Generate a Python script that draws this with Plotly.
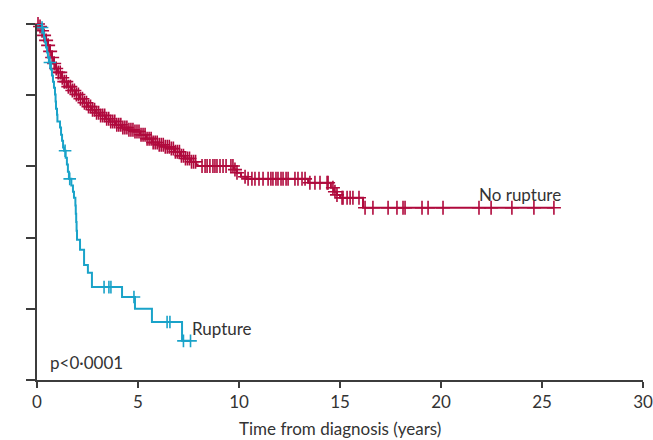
import numpy as np
import plotly.graph_objects as go

# Kaplan-Meier step estimates: event times (years) and survival after each step
no_rupture_time = [0, 0.15, 0.25, 0.35, 0.45, 0.54, 0.64, 0.74, 0.84, 0.94, 1.04, 1.19,
                   1.34, 1.53, 1.73, 1.93, 2.13, 2.33, 2.52, 2.72, 2.92, 3.12, 3.37,
                   3.61, 3.91, 4.21, 4.50, 4.80, 5.10, 5.40, 5.69, 5.99, 6.29, 6.58,
                   6.83, 7.08, 7.33, 7.57, 7.87, 7.95, 9.75, 9.90, 10.10, 10.40, 13.42,
                   14.55, 14.70, 14.85, 15.00, 16.14]
no_rupture_surv = [1.0, 0.993, 0.981, 0.968, 0.954, 0.940, 0.923, 0.906, 0.889, 0.875,
                   0.864, 0.849, 0.838, 0.824, 0.813, 0.802, 0.790, 0.779, 0.768, 0.759,
                   0.751, 0.743, 0.734, 0.726, 0.717, 0.709, 0.703, 0.698, 0.689, 0.678,
                   0.667, 0.661, 0.655, 0.650, 0.641, 0.630, 0.622, 0.613, 0.605, 0.601,
                   0.591, 0.582, 0.571, 0.565, 0.554, 0.540, 0.529, 0.520, 0.512, 0.484]
no_rupture_end = 25.59
no_rupture_censored = [
    0.05, 0.15, 0.25, 0.35, 0.45, 0.55, 0.65, 0.75, 0.85, 0.95, 1.05, 1.15, 1.25, 1.35,
    1.45, 1.55, 1.65, 1.75, 1.85, 1.95, 2.05, 2.15, 2.25, 2.35, 2.45, 2.55, 2.65, 2.75,
    2.85, 2.95, 3.05, 3.15, 3.25, 3.35, 3.45, 3.55, 3.65, 3.75, 3.85, 3.95, 4.05, 4.15,
    4.25, 4.35, 4.45, 4.55, 4.65, 4.75, 4.85, 4.95, 5.05, 5.15, 5.25, 5.35, 5.45, 5.55,
    5.65, 5.75, 5.85, 5.95, 6.05, 6.15, 6.25, 6.35, 6.45, 6.55, 6.65, 6.75, 6.85, 6.95,
    7.05, 7.15, 7.25, 7.35, 7.45, 7.55, 7.65, 7.75, 7.85,
    8.17, 8.32, 8.42, 8.56, 8.71, 8.81, 8.91, 9.06, 9.21, 9.36, 9.60, 9.70, 9.80, 9.90,
    10.30, 10.45, 10.64, 10.79, 10.99, 11.19, 11.44, 11.58, 11.68, 11.83, 11.93, 12.08,
    12.18, 12.33, 12.43, 12.77, 12.92, 13.12, 13.27, 13.51, 13.76, 14.01, 14.36, 14.41,
    14.65, 14.75, 14.85, 15.10, 15.15, 15.35, 15.50, 15.64, 15.94, 16.24, 16.63, 17.38,
    17.82, 18.12, 18.22, 19.06, 19.36, 20.10, 21.88, 22.48, 23.51, 24.60, 25.59]

rupture_time = [0, 0.25, 0.30, 0.35, 0.40, 0.45, 0.50, 0.54, 0.59, 0.69, 0.74, 0.79, 0.84,
                0.89, 0.92, 0.94, 0.99, 1.01, 1.14, 1.19, 1.24, 1.29, 1.34, 1.42, 1.48,
                1.53, 1.58, 1.70, 1.78, 1.83, 1.90, 1.92, 1.94, 1.96, 1.98, 2.13, 2.33,
                2.52, 2.72, 4.21, 4.85, 5.69, 7.18]
rupture_surv = [1.0, 0.990, 0.976, 0.962, 0.948, 0.934, 0.920, 0.906, 0.892, 0.872, 0.855,
                0.838, 0.821, 0.802, 0.782, 0.762, 0.745, 0.726, 0.709, 0.689, 0.672,
                0.653, 0.644, 0.624, 0.605, 0.585, 0.565, 0.546, 0.529, 0.512, 0.490,
                0.467, 0.444, 0.419, 0.394, 0.366, 0.323, 0.301, 0.261, 0.233, 0.200,
                0.163, 0.110]
rupture_end = 7.60
rupture_censored = [0.25, 0.64, 1.39, 1.62, 3.32, 3.56, 3.66, 4.80, 6.44, 6.58, 7.25, 7.60]

x_title = "Time from diagnosis (years)"

RED = "#b00a3d"
BLUE = "#1aa3c9"
AXIS = "#3c3c3c"
TEXT = "#333333"
FONT = "Lato"
FS = 17


def survival_at(times, surv, t):
    idx = np.searchsorted(np.asarray(times), np.asarray(t), side="right") - 1
    return np.asarray(surv)[idx]


def km_traces(times, surv, end, censored, color, mark_size):
    x = list(times) + [end]
    y = list(surv) + [surv[-1]]
    step = go.Scatter(x=x, y=y, mode="lines", line=dict(color=color, width=2, shape="hv"),
                      cliponaxis=False, hoverinfo="skip", showlegend=False)
    marks = go.Scatter(x=censored, y=survival_at(times, surv, censored), mode="markers",
                       marker=dict(symbol="cross-thin", size=mark_size,
                                   line=dict(color=color, width=1.6)),
                       cliponaxis=False, hoverinfo="skip", showlegend=False)
    return [step, marks]


fig = go.Figure()
for tr in km_traces(no_rupture_time, no_rupture_surv, no_rupture_end,
                    no_rupture_censored, RED, 10):
    fig.add_trace(tr)
for tr in km_traces(rupture_time, rupture_surv, rupture_end,
                    rupture_censored, BLUE, 9):
    fig.add_trace(tr)

fig.add_annotation(x=23.9, y=0.52, text="No rupture", showarrow=False,
                   xanchor="center", yanchor="middle", font=dict(size=FS, color=TEXT))
fig.add_annotation(x=7.55, y=0.146, text="Rupture", showarrow=False,
                   xanchor="left", yanchor="middle", font=dict(size=FS, color=TEXT))
fig.add_annotation(x=0.55, y=0.048, text="p<0·0001", showarrow=False,
                   xanchor="left", yanchor="middle", font=dict(size=FS, color=TEXT))
# x-axis title placed below the tick labels
fig.add_annotation(x=0.5, y=-0.135, xref="paper", yref="paper", text=x_title,
                   showarrow=False, xanchor="center", yanchor="middle",
                   font=dict(size=FS, color=TEXT))

fig.update_layout(
    width=653, height=440,
    margin=dict(l=37, r=10, t=24, b=60),
    paper_bgcolor="white", plot_bgcolor="white",
    font=dict(family=FONT, size=FS, color=TEXT),
    xaxis=dict(range=[0, 30], tickvals=[0, 5, 10, 15, 20, 25, 30], automargin=False,
               showline=True, linecolor=AXIS, linewidth=1.5,
               ticks="outside", ticklen=6, tickwidth=1.5, tickcolor=AXIS,
               showgrid=False, zeroline=False, tickfont=dict(size=FS, color=TEXT)),
    yaxis=dict(range=[0, 1], tickvals=[0, 0.2, 0.4, 0.6, 0.8, 1.0], showticklabels=False,
               automargin=False,
               showline=True, linecolor=AXIS, linewidth=1.5,
               ticks="outside", ticklen=9, tickwidth=1.5, tickcolor=AXIS,
               showgrid=False, zeroline=False),
)

fig.write_html("out.html")
